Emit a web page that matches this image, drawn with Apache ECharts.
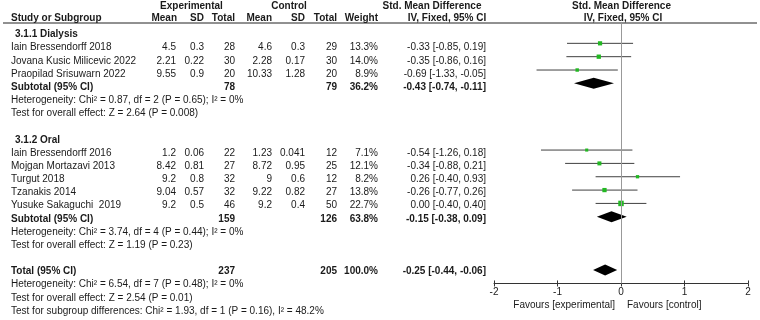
<!DOCTYPE html>
<html>
<head>
<meta charset="utf-8">
<script src="https://cdn.jsdelivr.net/npm/echarts@6/dist/echarts.min.js"></script>
<style>
  html, body { margin: 0; padding: 0; background: #fff; }
  #chart { width: 760px; height: 320px; }
</style>
</head>
<body>
<div id="chart"></div>
<script>
// study rows
const studies = ['Iain Bressendorff 2018', 'Jovana Kusic Milicevic 2022', 'Praopilad Srisuwarn 2022',
  'Iain Bressendorff 2016', 'Mojgan Mortazavi 2013', 'Turgut 2018', 'Tzanakis 2014', 'Yusuke Sakaguchi  2019'];
const studyRow = [1, 2, 3, 9, 10, 11, 12, 13];
const expMean = [4.5, 2.21, 9.55, 1.2, 8.42, 9.2, 9.04, 9.2];
const expSD = [0.3, 0.22, 0.9, 0.06, 0.81, 0.8, 0.57, 0.5];
const expN = [28, 30, 20, 22, 27, 32, 32, 46];
const ctlMean = [4.6, 2.28, 10.33, 1.23, 8.72, 9, 9.22, 9.2];
const ctlSD = [0.3, 0.17, 1.28, 0.041, 0.95, 0.6, 0.82, 0.4];
const ctlN = [29, 30, 20, 12, 25, 12, 27, 50];
const weight = [13.3, 14.0, 8.9, 7.1, 12.1, 8.2, 13.8, 22.7];
const smd = [-0.33, -0.35, -0.69, -0.54, -0.34, 0.26, -0.26, 0.00];
const ciLow = [-0.85, -0.86, -1.33, -1.26, -0.88, -0.40, -0.77, -0.40];
const ciHigh = [0.19, 0.16, -0.05, 0.18, 0.21, 0.93, 0.26, 0.40];

// pooled rows (subtotals + total)
const pooledNames = ['Subtotal (95% CI)', 'Subtotal (95% CI)', 'Total (95% CI)'];
const pooledRow = [4, 14, 18];
const pooledExpN = [78, 159, 237];
const pooledCtlN = [79, 126, 205];
const pooledWeight = [36.2, 63.8, 100.0];
const pooledSmd = [-0.43, -0.15, -0.25];
const pooledLow = [-0.74, -0.38, -0.44];
const pooledHigh = [-0.11, 0.09, -0.06];

const groupLabels = ['3.1.1 Dialysis', '3.1.2 Oral'];
const groupRow = [0, 8];
const statLines = [
  'Heterogeneity: Chi² = 0.87, df = 2 (P = 0.65); I² = 0%',
  'Test for overall effect: Z = 2.64 (P = 0.008)',
  'Heterogeneity: Chi² = 3.74, df = 4 (P = 0.44); I² = 0%',
  'Test for overall effect: Z = 1.19 (P = 0.23)',
  'Heterogeneity: Chi² = 6.54, df = 7 (P = 0.48); I² = 0%',
  'Test for overall effect: Z = 2.54 (P = 0.01)',
  'Test for subgroup differences: Chi² = 1.93, df = 1 (P = 0.16), I² = 48.2%'
];
const statRow = [5, 6, 15, 16, 19, 20, 21];

const FONT = '"Liberation Sans", Arial, sans-serif';
const INK = '#1a1a1a';
const GRID_TOP = 23.33, GRID_BOTTOM = 36.54;
const textY = (i) => 34.5 + 13.17 * i;
const ciText = (v, l, h) => v.toFixed(2) + ' [' + l.toFixed(2) + ', ' + h.toFixed(2) + ']';

function txt(x, y, s, align, bold) {
  return {
    type: 'text', x: x, y: y, silent: true,
    style: { text: s, fill: INK, font: (bold ? 'bold ' : '') + '10px ' + FONT, textAlign: align || 'left', textVerticalAlign: 'middle' }
  };
}

const graphics = [];
// headers
graphics.push(txt(191.5, 6, 'Experimental', 'center', true));
graphics.push(txt(289, 6, 'Control', 'center', true));
graphics.push(txt(432, 6, 'Std. Mean Difference', 'center', true));
graphics.push(txt(621.5, 6, 'Std. Mean Difference', 'center', true));
graphics.push(txt(11, 18, 'Study or Subgroup', 'left', true));
graphics.push(txt(177, 18, 'Mean', 'right', true));
graphics.push(txt(204, 18, 'SD', 'right', true));
graphics.push(txt(235, 18, 'Total', 'right', true));
graphics.push(txt(272, 18, 'Mean', 'right', true));
graphics.push(txt(305, 18, 'SD', 'right', true));
graphics.push(txt(337, 18, 'Total', 'right', true));
graphics.push(txt(378, 18, 'Weight', 'right', true));
graphics.push(txt(447, 18, 'IV, Fixed, 95% CI', 'center', true));
graphics.push(txt(623, 18, 'IV, Fixed, 95% CI', 'center', true));
graphics.push({ type: 'line', silent: true, shape: { x1: 3, y1: 23, x2: 757, y2: 23 }, style: { stroke: '#222', lineWidth: 1 } });

groupLabels.forEach((g, k) => graphics.push(txt(15, textY(groupRow[k]), g, 'left', true)));

studies.forEach((s, i) => {
  const y = textY(studyRow[i]);
  graphics.push(txt(11, y, s));
  graphics.push(txt(176, y, String(expMean[i]), 'right'));
  graphics.push(txt(204, y, String(expSD[i]), 'right'));
  graphics.push(txt(235, y, String(expN[i]), 'right'));
  graphics.push(txt(272, y, String(ctlMean[i]), 'right'));
  graphics.push(txt(305, y, String(ctlSD[i]), 'right'));
  graphics.push(txt(337, y, String(ctlN[i]), 'right'));
  graphics.push(txt(378, y, weight[i].toFixed(1) + '%', 'right'));
  graphics.push(txt(486, y, ciText(smd[i], ciLow[i], ciHigh[i]), 'right'));
});

pooledNames.forEach((s, i) => {
  const y = textY(pooledRow[i]);
  graphics.push(txt(11, y, s, 'left', true));
  graphics.push(txt(235, y, String(pooledExpN[i]), 'right', true));
  graphics.push(txt(337, y, String(pooledCtlN[i]), 'right', true));
  graphics.push(txt(378, y, pooledWeight[i].toFixed(1) + '%', 'right', true));
  graphics.push(txt(486, y, ciText(pooledSmd[i], pooledLow[i], pooledHigh[i]), 'right', true));
});

statLines.forEach((s, k) => graphics.push(txt(11, textY(statRow[k]), s)));

graphics.push(txt(615, 305, 'Favours [experimental]', 'right'));
graphics.push(txt(627, 305, 'Favours [control]', 'left'));

const chart = echarts.init(document.getElementById('chart'));

const xBase = { type: 'value', min: -2, max: 2, interval: 1, splitLine: { show: false }, position: 'bottom' };

chart.setOption({
  animation: false,
  backgroundColor: '#fff',
  grid: [
    { left: 494, right: 12, top: GRID_TOP, bottom: GRID_BOTTOM },
    // thin strip sharing the bottom edge, only for the upward half of the ticks
    { left: 494, right: 12, bottom: GRID_BOTTOM, height: 3 }
  ],
  xAxis: [
    Object.assign({}, xBase, {
      gridIndex: 0,
      axisLine: { show: true, onZero: false, lineStyle: { color: '#333', width: 1 } },
      axisTick: { show: true, length: 3, lineStyle: { color: '#333' } },
      axisLabel: { color: INK, fontSize: 10, fontFamily: FONT, margin: 4 }
    }),
    Object.assign({}, xBase, {
      gridIndex: 1,
      axisLine: { show: false, onZero: false },
      axisTick: { show: true, inside: true, length: 3, lineStyle: { color: '#333' } },
      axisLabel: { show: false }
    })
  ],
  yAxis: [
    { type: 'value', gridIndex: 0, min: -0.5, max: 19, inverse: true, show: false },
    { type: 'value', gridIndex: 1, min: 0, max: 1, show: false }
  ],
  graphic: graphics,
  series: [
    {
      type: 'custom',
      xAxisIndex: 0,
      yAxisIndex: 0,
      encode: { x: [0, 2, 3], y: 1 },
      data: studies.map((s, i) => [smd[i], studyRow[i], ciLow[i], ciHigh[i], weight[i]]),
      renderItem: (params, api) => {
        const row = api.value(1);
        const a = api.coord([api.value(2), row]);
        const b = api.coord([api.value(3), row]);
        const c = api.coord([api.value(0), row]);
        const sz = Math.sqrt(api.value(4)) * 1.15;
        return {
          type: 'group',
          children: [
            { type: 'line', shape: { x1: a[0], y1: a[1], x2: b[0], y2: b[1] }, style: { stroke: '#404040', lineWidth: 1 } },
            { type: 'rect', shape: { x: c[0] - sz / 2, y: c[1] - sz / 2, width: sz, height: sz }, style: { fill: '#22b822' } }
          ]
        };
      },
      markLine: {
        silent: true,
        symbol: 'none',
        label: { show: false },
        lineStyle: { color: '#999', width: 1, type: 'solid' },
        data: [{ xAxis: 0 }]
      },
      z: 3
    },
    {
      type: 'custom',
      xAxisIndex: 0,
      yAxisIndex: 0,
      encode: { x: [0, 2, 3], y: 1 },
      data: pooledNames.map((s, i) => [pooledSmd[i], pooledRow[i], pooledLow[i], pooledHigh[i]]),
      renderItem: (params, api) => {
        const row = api.value(1);
        const l = api.coord([api.value(2), row]);
        const h = api.coord([api.value(3), row]);
        const c = api.coord([api.value(0), row]);
        return {
          type: 'polygon',
          shape: { points: [[l[0], c[1]], [c[0], c[1] - 5.5], [h[0], c[1]], [c[0], c[1] + 5.5]] },
          style: { fill: '#000' }
        };
      },
      z: 4
    }
  ]
});
</script>
</body>
</html>
